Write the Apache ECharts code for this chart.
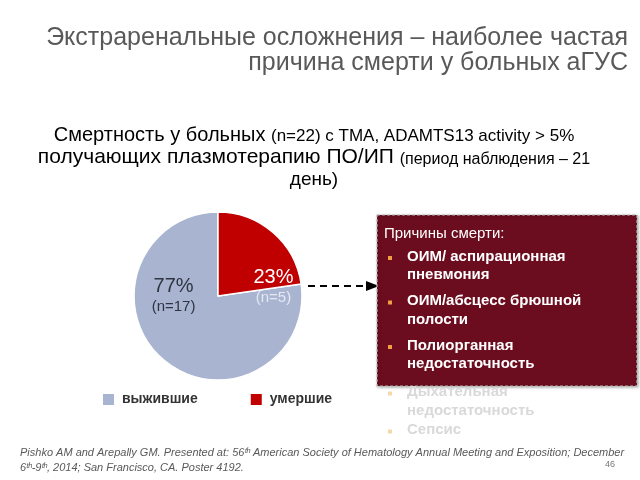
<!DOCTYPE html>
<html><head><meta charset="utf-8">
<script src="https://cdn.jsdelivr.net/npm/echarts@6/dist/echarts.min.js"></script>
<style>html,body{margin:0;padding:0;background:#fff}#c{width:640px;height:480px}</style>
</head><body><div id="c"></div>
<script>
const categories = ['выжившие', 'умершие'];
const counts = [17, 5];
const percentLabels = ['77%', '23%'];
const nLabels = ['(n=17)', '(n=5)'];
const causes = [
  ['ОИМ/ аспирационная', 'пневмония'],
  ['ОИМ/абсцесс брюшной', 'полости'],
  ['Полиорганная', 'недостаточность']
];
const fadedCauses = [['Дыхательная', 'недостаточность'], ['Сепсис']];

const colors = ['#A9B4D1', '#C00000'];
const chart = echarts.init(document.getElementById('c'), null, {renderer: 'canvas'});
const font = 'Liberation Sans';

function lbl(i, offset, pc, nc) {
  return {offset: offset, formatter: '{p|' + percentLabels[i] + '}\n{n|' + nLabels[i] + '}',
    rich: {p: {fontSize: 20, color: pc, fontFamily: font, lineHeight: 22, align: 'center'},
           n: {fontSize: 15, color: nc, fontFamily: font, lineHeight: 20, align: 'center'}}};
}
const pieData = categories.map((c, i) => ({
  name: c, value: counts[i],
  itemStyle: {color: colors[i]},
  label: i === 0 ? lbl(i, [-15, -34], '#2E3440', '#2E3440') : lbl(i, [26, 25], '#FFFFFF', '#E4E8F2')
}));

const g = [];
// title
g.push({type: 'text', style: {x: 628, y: 51, text: 'Экстраренальные осложнения – наиболее частая', font: '25px "Liberation Sans"', fill: '#595959', align: 'right', verticalAlign: 'bottom'}});
g.push({type: 'text', style: {x: 628, y: 76, text: 'причина смерти у больных аГУС', font: '25px "Liberation Sans"', fill: '#595959', align: 'right', verticalAlign: 'bottom'}});
// subtitle
function sub(text, y, sa, sb) {
  g.push({type: 'text', style: {x: 314, y: y, text: text, align: 'center', verticalAlign: 'bottom',
    rich: {a: {fontSize: sa, fontFamily: font, color: '#111', lineHeight: sa, verticalAlign: 'bottom'},
           b: {fontSize: sb, fontFamily: font, color: '#111', lineHeight: sb, verticalAlign: 'bottom'}}}});
}
sub('{a|Смертность у больных }{b|(n=22) с TMA, ADAMTS13 activity > 5%}', 145, 20, 17);
sub('{a|получающих плазмотерапию ПО/ИП }{b|(период наблюдения – 21}', 168, 21, 16);
sub('{a|день)}', 189, 19, 16);
// box
g.push({type: 'rect', shape: {x: 377, y: 215, width: 260, height: 171},
  style: {fill: '#6B0D1E', stroke: '#B8B8B8', lineWidth: 1.2, lineDash: [3, 2], shadowBlur: 3, shadowColor: 'rgba(0,0,0,0.35)', shadowOffsetX: 1, shadowOffsetY: 1}, z: 1});
g.push({type: 'text', left: 384, top: 226, z: 5, style: {text: 'Причины смерти:', font: '15px "Liberation Sans"', fill: '#FFFFFF'}});
let y = 249;
causes.forEach(lines => {
  g.push({type: 'rect', shape: {x: 388, y: y + 7, width: 4, height: 4}, style: {fill: '#F0A040'}, z: 5});
  lines.forEach((l, k) => {
    g.push({type: 'text', left: 407, top: y + k * 18.5, z: 5, style: {text: l, font: 'bold 15px "Liberation Sans"', fill: '#FFFFFF'}});
  });
  y += 44.5;
});
// faded
y += 2;
fadedCauses.forEach(lines => {
  g.push({type: 'rect', shape: {x: 388, y: y + 7, width: 4, height: 4}, style: {fill: '#F6D9A8'}, z: 6});
  lines.forEach((l, k) => {
    g.push({type: 'text', left: 407, top: y + k * 18.5, z: 6, style: {text: l, font: 'bold 15px "Liberation Sans"', fill: '#D9D9D9'}});
  });
  y += 18.5 * lines.length + 1;
});
// arrow
g.push({type: 'line', shape: {x1: 308, y1: 286, x2: 368, y2: 286}, style: {stroke: '#000', lineWidth: 2, lineDash: [7, 5]}});
g.push({type: 'polygon', shape: {points: [[366, 281], [379, 286], [366, 291]]}, style: {fill: '#000'}});
// footer
g.push({type: 'text', left: 20, top: 445, style: {text: 'Pishko AM and Arepally GM. Presented at: 56ᵗʰ American Society of Hematology Annual Meeting and Exposition; December\n6ᵗʰ-9ᵗʰ, 2014; San Francisco, CA. Poster 4192.', font: 'italic 11px "Liberation Sans"', fill: '#595959', lineHeight: 15}});
g.push({type: 'text', left: 605, top: 460, style: {text: '46', font: '9px "Liberation Sans"', fill: '#777'}});

chart.setOption({
  animation: false,
  legend: {left: 96, top: 387, itemWidth: 13, itemHeight: 13, itemGap: 51, icon: 'rect',
    data: categories, selectedMode: false,
    textStyle: {fontSize: 14, fontWeight: 'bold', fontFamily: font, color: '#333', padding: [0, 0, 0, 2]}},
  series: [{
    type: 'pie', center: [218, 296], radius: 84, startAngle: 90, clockwise: false,
    data: pieData, label: {show: true, position: 'inside'}, labelLine: {show: false},
    itemStyle: {borderColor: '#fff', borderWidth: 1.5}, silent: true
  }],
  graphic: g
});
</script></body></html>
